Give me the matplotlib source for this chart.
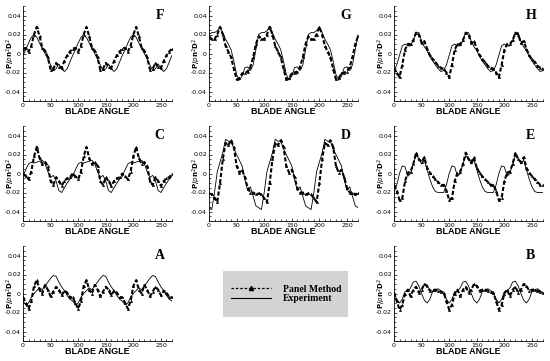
import numpy as np
import matplotlib
matplotlib.use("Agg")
import matplotlib.pyplot as plt
from matplotlib.patches import Rectangle
from matplotlib.lines import Line2D
from matplotlib.ticker import MultipleLocator

# blade angle, every 5 degrees from 0 to 270
angle = list(range(0, 275, 5))

# ---- values (three blade passages + end point) ----
F_panel = [0.005, 0.006, 0.002, 0.008, 0.020, 0.028, 0.018, 0.006, 0.003, -0.004, -0.017, -0.016, -0.010, -0.014, -0.015, -0.008, -0.002, 0.002,
           0.005, 0.006, 0.002, 0.008, 0.020, 0.028, 0.018, 0.006, 0.003, -0.004, -0.017, -0.016, -0.010, -0.014, -0.015, -0.008, -0.002, 0.002,
           0.005, 0.006, 0.002, 0.008, 0.020, 0.028, 0.018, 0.006, 0.003, -0.004, -0.017, -0.016, -0.010, -0.014, -0.015, -0.008, -0.002, 0.002,
           0.005]
F_exp = [-0.002, 0.004, 0.011, 0.017, 0.020, 0.017, 0.011, 0.005, 0.000, -0.006, -0.012, -0.018, -0.016, -0.011, -0.016, -0.019, -0.016, -0.009,
         -0.002, 0.004, 0.011, 0.017, 0.020, 0.017, 0.011, 0.005, 0.000, -0.006, -0.012, -0.018, -0.016, -0.011, -0.016, -0.019, -0.016, -0.009,
         -0.002, 0.004, 0.011, 0.017, 0.020, 0.017, 0.011, 0.005, 0.000, -0.006, -0.012, -0.018, -0.016, -0.011, -0.016, -0.019, -0.016, -0.009,
         -0.002]

G_panel = [0.018, 0.015, 0.015, 0.020, 0.028, 0.020, 0.008, 0.002, -0.004, -0.016, -0.027, -0.026, -0.021, -0.020, -0.019, -0.014, -0.004, 0.010,
           0.018, 0.015, 0.015, 0.020, 0.028, 0.020, 0.008, 0.002, -0.004, -0.016, -0.027, -0.026, -0.021, -0.020, -0.019, -0.014, -0.004, 0.010,
           0.018, 0.015, 0.015, 0.020, 0.028, 0.020, 0.008, 0.002, -0.004, -0.016, -0.027, -0.026, -0.021, -0.020, -0.019, -0.014, -0.004, 0.010,
           0.018]
G_exp = [0.020, 0.022, 0.022, 0.024, 0.028, 0.022, 0.015, 0.010, 0.004, -0.008, -0.022, -0.028, -0.024, -0.015, -0.014, -0.018, -0.012, 0.004,
         0.020, 0.022, 0.022, 0.024, 0.028, 0.022, 0.015, 0.010, 0.004, -0.008, -0.022, -0.028, -0.024, -0.015, -0.014, -0.018, -0.012, 0.004,
         0.020, 0.022, 0.022, 0.024, 0.028, 0.022, 0.015, 0.010, 0.004, -0.008, -0.022, -0.028, -0.024, -0.015, -0.014, -0.018, -0.012, 0.004,
         0.020]

H_panel = [-0.016, -0.020, -0.025, -0.012, 0.004, 0.010, 0.010, 0.014, 0.022, 0.020, 0.011, 0.013, 0.005, -0.002, -0.006, -0.009, -0.013, -0.015,
           -0.016, -0.020, -0.025, -0.012, 0.004, 0.010, 0.010, 0.014, 0.022, 0.020, 0.011, 0.013, 0.005, -0.002, -0.006, -0.009, -0.013, -0.015,
           -0.016, -0.020, -0.025, -0.012, 0.004, 0.010, 0.010, 0.014, 0.022, 0.020, 0.011, 0.013, 0.005, -0.002, -0.006, -0.009, -0.013, -0.015,
           -0.016]
H_exp = [-0.018, -0.012, -0.002, 0.008, 0.010, 0.008, 0.008, 0.014, 0.022, 0.022, 0.013, 0.007, 0.003, -0.003, -0.008, -0.012, -0.016, -0.019,
         -0.018, -0.012, -0.002, 0.008, 0.010, 0.008, 0.008, 0.014, 0.022, 0.022, 0.013, 0.007, 0.003, -0.003, -0.008, -0.012, -0.016, -0.019,
         -0.018, -0.012, -0.002, 0.008, 0.010, 0.008, 0.008, 0.014, 0.022, 0.022, 0.013, 0.007, 0.003, -0.003, -0.008, -0.012, -0.016, -0.019,
         -0.018]

C_panel = [0.000, -0.003, -0.006, 0.002, 0.018, 0.028, 0.016, 0.010, 0.012, 0.008, -0.008, -0.012, -0.004, -0.008, -0.013, -0.008, -0.005, -0.004,
           0.000, -0.003, -0.006, 0.002, 0.018, 0.028, 0.016, 0.010, 0.012, 0.008, -0.008, -0.012, -0.004, -0.008, -0.013, -0.008, -0.005, -0.004,
           0.000, -0.003, -0.006, 0.002, 0.018, 0.028, 0.016, 0.010, 0.012, 0.008, -0.008, -0.012, -0.004, -0.008, -0.013, -0.008, -0.005, -0.004,
           0.000]
C_exp = [-0.003, 0.004, 0.010, 0.012, 0.011, 0.012, 0.013, 0.014, 0.010, 0.002, -0.004, -0.002, -0.008, -0.018, -0.020, -0.015, -0.010, -0.006,
         -0.003, 0.004, 0.010, 0.012, 0.011, 0.012, 0.013, 0.014, 0.010, 0.002, -0.004, -0.002, -0.008, -0.018, -0.020, -0.015, -0.010, -0.006,
         -0.003, 0.004, 0.010, 0.012, 0.011, 0.012, 0.013, 0.014, 0.010, 0.002, -0.004, -0.002, -0.008, -0.018, -0.020, -0.015, -0.010, -0.006,
         -0.003]

D_panel = [-0.021, -0.022, -0.026, -0.030, -0.010, 0.015, 0.032, 0.030, 0.035, 0.028, 0.008, 0.001, 0.004, -0.004, -0.015, -0.020, -0.020, -0.022,
           -0.021, -0.022, -0.026, -0.030, -0.010, 0.015, 0.032, 0.030, 0.035, 0.028, 0.008, 0.001, 0.004, -0.004, -0.015, -0.020, -0.020, -0.022,
           -0.021, -0.022, -0.026, -0.030, -0.010, 0.015, 0.032, 0.030, 0.035, 0.028, 0.008, 0.001, 0.004, -0.004, -0.015, -0.020, -0.020, -0.022,
           -0.021]
D_exp = [-0.036, -0.038, -0.020, 0.002, 0.012, 0.022, 0.036, 0.034, 0.034, 0.026, 0.020, 0.014, 0.008, -0.006, -0.018, -0.014, -0.024, -0.034,
         -0.036, -0.038, -0.020, 0.002, 0.012, 0.022, 0.036, 0.034, 0.034, 0.026, 0.020, 0.014, 0.008, -0.006, -0.018, -0.014, -0.024, -0.034,
         -0.036, -0.038, -0.020, 0.002, 0.012, 0.022, 0.036, 0.034, 0.034, 0.026, 0.020, 0.014, 0.008, -0.006, -0.018, -0.014, -0.024, -0.034,
         -0.036]

E_panel = [-0.012, -0.018, -0.028, -0.026, -0.008, 0.001, 0.002, 0.010, 0.022, 0.015, 0.012, 0.017, 0.006, 0.001, -0.003, -0.006, -0.009, -0.012,
           -0.012, -0.018, -0.028, -0.026, -0.008, 0.001, 0.002, 0.010, 0.022, 0.015, 0.012, 0.017, 0.006, 0.001, -0.003, -0.006, -0.009, -0.012,
           -0.012, -0.018, -0.028, -0.026, -0.008, 0.001, 0.002, 0.010, 0.022, 0.015, 0.012, 0.017, 0.006, 0.001, -0.003, -0.006, -0.009, -0.012,
           -0.012]
E_exp = [-0.020, -0.012, 0.000, 0.008, 0.007, -0.003, 0.000, 0.010, 0.019, 0.016, 0.010, 0.014, 0.004, -0.006, -0.014, -0.019, -0.020, -0.020,
         -0.020, -0.012, 0.000, 0.008, 0.007, -0.003, 0.000, 0.010, 0.019, 0.016, 0.010, 0.014, 0.004, -0.006, -0.014, -0.019, -0.020, -0.020,
         -0.020, -0.012, 0.000, 0.008, 0.007, -0.003, 0.000, 0.010, 0.019, 0.016, 0.010, 0.014, 0.004, -0.006, -0.014, -0.019, -0.020, -0.020,
         -0.020]

A_panel = [-0.004, -0.010, -0.016, -0.008, 0.008, 0.014, 0.004, 0.000, 0.009, 0.004, -0.003, 0.002, 0.007, 0.004, -0.002, 0.003, 0.001, -0.004,
           -0.004, -0.010, -0.016, -0.008, 0.008, 0.014, 0.004, 0.000, 0.009, 0.004, -0.003, 0.002, 0.007, 0.004, -0.002, 0.003, 0.001, -0.004,
           -0.004, -0.010, -0.016, -0.008, 0.008, 0.014, 0.004, 0.000, 0.009, 0.004, -0.003, 0.002, 0.007, 0.004, -0.002, 0.003, 0.001, -0.004,
           -0.004]
A_exp = [-0.008, -0.012, -0.010, -0.004, 0.000, 0.003, 0.006, 0.004, 0.008, 0.012, 0.016, 0.019, 0.018, 0.012, 0.007, 0.003, -0.002, -0.006,
         -0.008, -0.012, -0.010, -0.004, 0.000, 0.003, 0.006, 0.004, 0.008, 0.012, 0.016, 0.019, 0.018, 0.012, 0.007, 0.003, -0.002, -0.006,
         -0.008, -0.012, -0.010, -0.004, 0.000, 0.003, 0.006, 0.004, 0.008, 0.012, 0.016, 0.019, 0.018, 0.012, 0.007, 0.003, -0.002, -0.006,
         -0.008]

B_panel = [0.001, -0.008, -0.017, -0.012, 0.000, 0.004, -0.003, 0.004, 0.007, 0.001, 0.004, 0.010, 0.008, 0.003, 0.004, 0.004, 0.003, 0.002,
           0.001, -0.008, -0.017, -0.012, 0.000, 0.004, -0.003, 0.004, 0.007, 0.001, 0.004, 0.010, 0.008, 0.003, 0.004, 0.004, 0.003, 0.002,
           0.001, -0.008, -0.017, -0.012, 0.000, 0.004, -0.003, 0.004, 0.007, 0.001, 0.004, 0.010, 0.008, 0.003, 0.004, 0.004, 0.003, 0.002,
           0.001]
B_exp = [0.000, -0.006, -0.010, -0.006, 0.002, 0.002, 0.006, 0.012, 0.013, 0.008, 0.000, -0.007, -0.010, -0.006, 0.002, 0.004, 0.005, 0.003,
         0.000, -0.006, -0.010, -0.006, 0.002, 0.002, 0.006, 0.012, 0.013, 0.008, 0.000, -0.007, -0.010, -0.006, 0.002, 0.004, 0.005, 0.003,
         0.000, -0.006, -0.010, -0.006, 0.002, 0.002, 0.006, 0.012, 0.013, 0.008, 0.000, -0.007, -0.010, -0.006, 0.002, 0.004, 0.005, 0.003,
         0.000]

panel_names = ["F", "G", "H", "C", "D", "E", "A", None, "B"]
panel_data = {"F": (F_panel, F_exp), "G": (G_panel, G_exp), "H": (H_panel, H_exp),
              "C": (C_panel, C_exp), "D": (D_panel, D_exp), "E": (E_panel, E_exp),
              "A": (A_panel, A_exp), "B": (B_panel, B_exp)}

y_ticks = [-0.04, -0.02, 0, 0.02, 0.04]
y_ticklabels = ["-0.04", "-0.02", "0", "0.02", "0.04"]
x_ticks = [0, 50, 100, 150, 200, 250]

W, H = 550, 361
fig = plt.figure(figsize=(W / 100, H / 100), dpi=100)

col_left = [23, 209, 394]       # px
row_top = [6, 126, 246]         # px
ax_w, ax_h = 149, 95

panel_style = dict(color="black", lw=1.5, ls=(0, (2.0, 1.0)), marker="^", ms=1.6, mew=0.4)
exp_style = dict(color="black", lw=0.6)

for i, name in enumerate(panel_names):
    if name is None:
        continue
    r, c = divmod(i, 3)
    ax = fig.add_axes([col_left[c] / W, 1 - (row_top[r] + ax_h) / H, ax_w / W, ax_h / H])
    pm, ex = panel_data[name]
    ax.plot(angle, ex, **exp_style)
    ax.plot(angle, pm, **panel_style)
    ax.set_xlim(0, 270)
    ax.set_ylim(-0.05, 0.05)
    ax.set_xticks(x_ticks)
    ax.set_yticks(y_ticks)
    ax.set_yticklabels(y_ticklabels)
    ax.xaxis.set_minor_locator(MultipleLocator(10))
    ax.yaxis.set_minor_locator(MultipleLocator(0.005))
    ax.tick_params(which="both", direction="in", labelsize=4.5, pad=1.5, width=0.5)
    ax.tick_params(which="major", length=2.5)
    ax.tick_params(which="minor", length=1.2)
    for s in ["top", "right"]:
        ax.spines[s].set_visible(False)
    for s in ["left", "bottom"]:
        ax.spines[s].set_linewidth(0.6)
    ax.set_xlabel("BLADE ANGLE", fontsize=6.5, fontweight="bold", family="Liberation Sans", labelpad=-1)
    ax.set_ylabel(r"P/$\rho$n$^2$D$^2$", fontsize=5, fontweight="bold")
    ax.yaxis.set_label_coords(-0.042, 0.5)
    ax.text(248, 0.04, name, fontsize=10, fontweight="bold", family="Liberation Serif",
            ha="center", va="center")

# legend box in the empty bottom-middle slot
fig.patches.append(Rectangle((223 / W, 1 - 317 / H), 125 / W, 46 / H, transform=fig.transFigure,
                             facecolor="#d3d3d3", edgecolor="none", zorder=0))
handles = [Line2D([], [], color="black", lw=0.9, ls=(0, (2, 1.5)), marker="^", ms=3),
           Line2D([], [], color="black", lw=0.8)]
fig.legend(handles, ["Panel Method", "Experiment"], loc="center", bbox_to_anchor=(286 / W, 1 - 294 / H),
           frameon=False, numpoints=1, handlelength=4.2, labelspacing=0.1, handletextpad=1.2,
           prop={"family": "Liberation Serif", "weight": "bold", "size": 7})

fig.savefig("out.png", dpi=100)
